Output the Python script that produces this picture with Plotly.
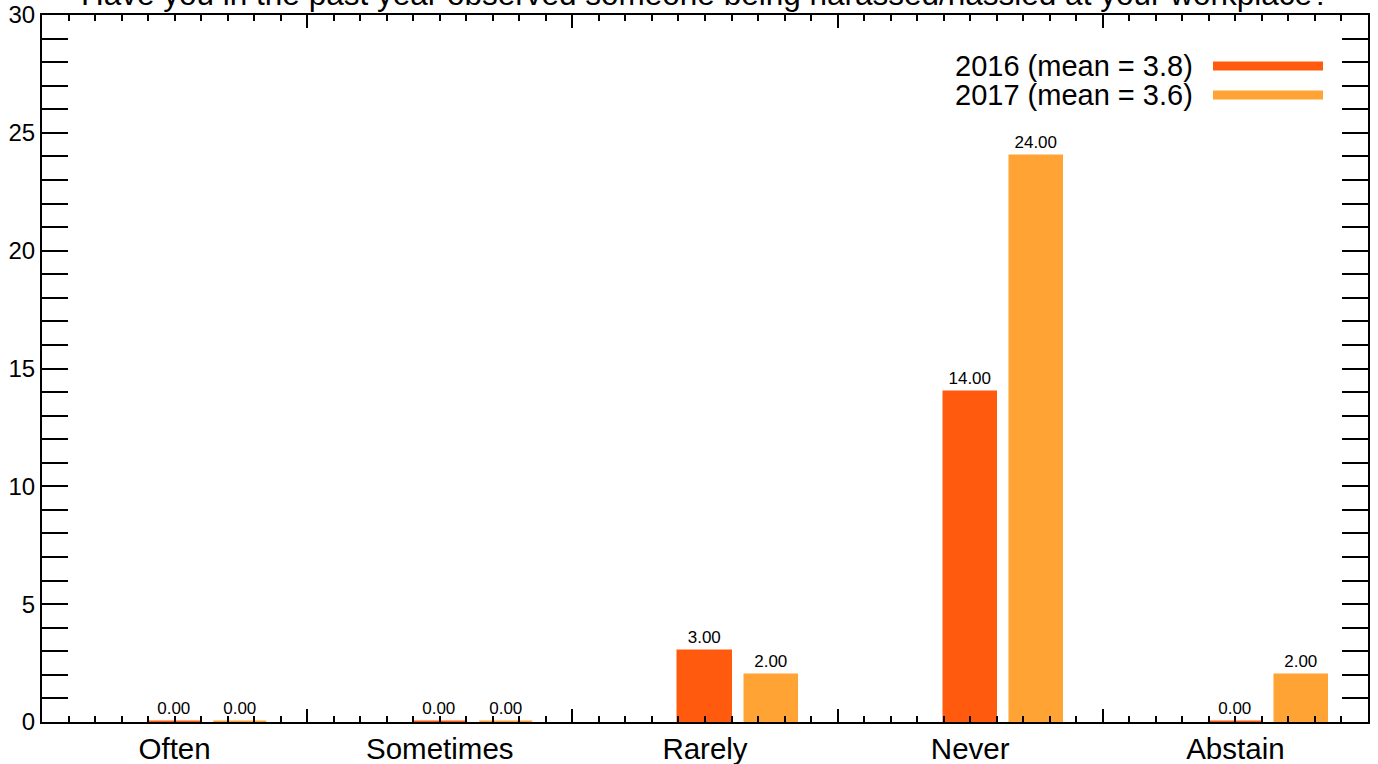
import plotly.graph_objects as go

title = "Have you in the past year observed someone being harassed/hassled at your workplace?"
categories = ["Often", "Sometimes", "Rarely", "Never", "Abstain"]
values_2016 = [0, 0, 3, 14, 0]
values_2017 = [0, 0, 2, 24, 2]
legend_2016 = "2016 (mean = 3.8)"
legend_2017 = "2017 (mean = 3.6)"
color_2016 = "#ff5a0e"
color_2017 = "#ffa335"

idx = list(range(len(categories)))
x16 = [i + 0.5 for i in idx]
x17 = [i + 0.75 for i in idx]

FONT = "Liberation Sans, Arial, Helvetica, sans-serif"

fig = go.Figure()
for xs, ys, col, name in [(x16, values_2016, color_2016, legend_2016),
                          (x17, values_2017, color_2017, legend_2017)]:
    fig.add_trace(go.Bar(
        x=xs, y=ys, width=0.2, name=name,
        marker=dict(color=col, line=dict(color=col, width=1.5)),
        texttemplate="%{y:.2f}", textposition="outside",
        textfont=dict(size=17, color="black", family=FONT),
        cliponaxis=False, showlegend=False,
    ))

# invisible trace for label axis
fig.add_trace(go.Scatter(x=[c + 0.5 for c in idx], y=[0] * len(idx), xaxis="x2",
                         mode="markers", marker=dict(opacity=0), hoverinfo="skip",
                         showlegend=False))

fig.update_layout(
    width=1378, height=764,
    margin=dict(l=42, r=10, t=15, b=42, autoexpand=False),
    paper_bgcolor="white", plot_bgcolor="white",
    font=dict(family=FONT, color="black"),
    bargap=0, barmode="overlay",
    xaxis=dict(
        range=[0, len(categories)], tickmode="array", tickvals=list(range(len(categories) + 1)),
        showticklabels=False, ticks="inside", ticklen=13, tickwidth=2, tickcolor="black",
        minor=dict(tick0=0, dtick=0.1, ticks="inside", ticklen=6, tickwidth=2, tickcolor="black"),
        showline=True, linecolor="black", linewidth=2, mirror="allticks",
        showgrid=False, zeroline=False, automargin=False,
    ),
    xaxis2=dict(
        overlaying="x", anchor="y", side="bottom", matches="x",
        range=[0, len(categories)], tickmode="array", tickvals=[c + 0.5 for c in idx],
        ticktext=categories, ticks="", showline=False, showgrid=False, zeroline=False,
        tickfont=dict(size=29.5, family=FONT, color="black"), automargin=False,
        ticklabelstandoff=6,
    ),
    yaxis=dict(
        range=[0, 30], tickmode="linear", tick0=0, dtick=5,
        ticks="inside", ticklen=26, tickwidth=2, tickcolor="black",
        minor=dict(tick0=0, dtick=1, ticks="inside", ticklen=13, tickwidth=2, tickcolor="black"),
        tickfont=dict(size=24, family=FONT, color="black"),
        showline=True, linecolor="black", linewidth=2, mirror="allticks",
        showgrid=False, zeroline=False, automargin=False,
    ),
)

fig.add_annotation(text=title, xref="paper", yref="paper", x=0.5, y=1, yanchor="bottom",
                   xanchor="center", showarrow=False, yshift=1,
                   font=dict(size=31.5, family=FONT, color="black"))

for row, (label, col) in enumerate([(legend_2016, color_2016), (legend_2017, color_2017)]):
    ypx = 66 + row * 29
    yp = 1 - (ypx - 15) / 707
    fig.add_annotation(text=label, xref="paper", yref="paper", x=(1195 - 42) / 1326, y=yp,
                       xanchor="right", yanchor="middle", showarrow=False,
                       font=dict(size=29, family=FONT, color="black"))
    fig.add_shape(type="line", xref="paper", yref="paper",
                  x0=(1213 - 42) / 1326, x1=(1323 - 42) / 1326, y0=yp, y1=yp,
                  line=dict(color=col, width=9))

fig.write_html("out.html", config={"displayModeBar": False},
               post_script="document.body.style.margin='0';document.body.style.overflow='hidden';")
